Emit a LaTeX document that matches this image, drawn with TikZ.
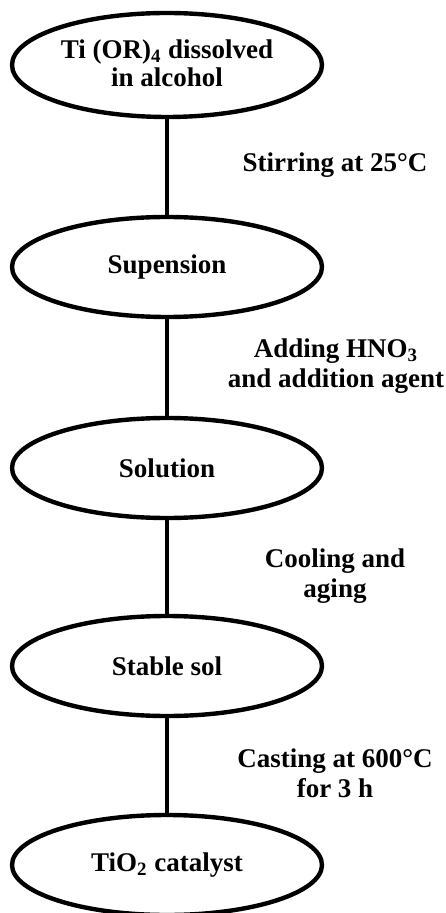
\documentclass[tikz,border=0pt]{standalone}
\usepackage{fontspec}
\setmainfont{Liberation Serif}
\usepackage{tikz}
\usetikzlibrary{shapes.geometric}

\tikzset{
    stage/.style={draw, ellipse, line width=2.2pt, minimum width=155pt, minimum height=50pt, inner sep=0pt, align=center, font=\fontsize{13.5}{14}\selectfont\bfseries},
    cond/.style={align=center, font=\fontsize{13.5}{15}\selectfont\bfseries},
    link/.style={line width=2.2pt}
}

\begin{document}
\begin{tikzpicture}[x=0.5pt, y=-0.5pt]
        \useasboundingbox (0, 0) rectangle (445, 913);
        \node (alkoxide) [stage, minimum height=52pt, text depth=2pt] at (167, 65) {Ti (OR)\textsubscript{4} dissolved\\in alcohol};
        \node (suspension) [stage] at (167, 267) {Supension};
        \node (solution) [stage] at (167, 468) {Solution};
        \node (stable sol) [stage] at (167, 666) {Stable sol};
        \node (catalyst) [stage] at (167, 865) {TiO\textsubscript{2} catalyst};

        \draw [link] (alkoxide) -- (suspension);
        \draw [link] (suspension) -- (solution);
        \draw [link] (solution) -- (stable sol);
        \draw [link] (stable sol) -- (catalyst);

        \node (stirring) [cond] at (335, 165) {Stirring at 25°C};
        \node (adding) [cond] at (336, 366) {Adding HNO\textsubscript{3}\\and addition agent};
        \node (cooling) [cond] at (335, 576) {Cooling and\\aging};
        \node (casting) [cond] at (335, 773) {Casting at 600°C\\for 3 h};
    \end{tikzpicture}
\end{document}
